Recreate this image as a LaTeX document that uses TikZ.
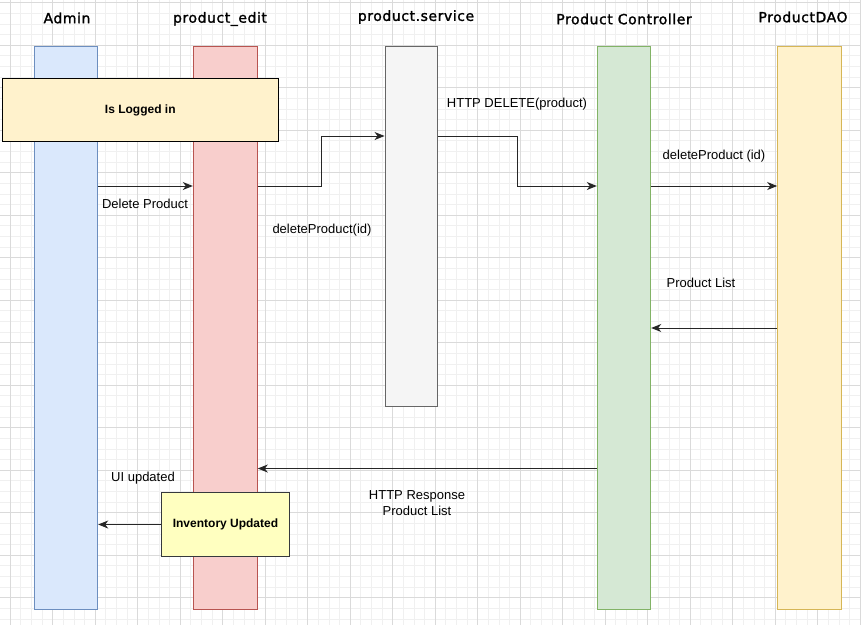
\documentclass[tikz,border=0pt]{standalone}
\usepackage{fontspec}
\setmainfont{Liberation Sans}
\newfontfamily\headfont{DejaVu Sans}[LetterSpace=4,FakeBold=1.5]
\usetikzlibrary{arrows.meta}
\definecolor{minorgrid}{HTML}{F0F0F0}
\definecolor{majorgrid}{HTML}{DADADA}
\begin{document}
\begin{tikzpicture}[x=1pt,y=-1pt,
  life/.style={draw,inner sep=0pt,minimum width=64pt,minimum height=563pt,line width=1pt},
  note/.style={draw,inner sep=0pt,line width=1pt,font=\bfseries\fontsize{12}{14}\selectfont},
  head/.style={font=\headfont\fontsize{14}{16}\selectfont},
  msg/.style={draw=black!85,line width=1pt,-{Stealth[length=10pt,width=8pt,inset=3pt]}},
  lbl/.style={font=\fontsize{13}{15}\selectfont,align=center}]
  \fill[white] (0,0) rectangle (861,625);
  \useasboundingbox (0,0) rectangle (861,625);
  \foreach \i in {0,...,80} \draw[minorgrid] (10+\i*10.625,0) -- (10+\i*10.625,625);
  \foreach \i in {0,...,58} \draw[minorgrid] (0,2.5+\i*10.625) -- (861,2.5+\i*10.625);
  \foreach \i in {0,...,20} \draw[majorgrid] (10+\i*42.5,0) -- (10+\i*42.5,625);
  \foreach \i in {0,...,14} \draw[majorgrid] (0,2.5+\i*42.5) -- (861,2.5+\i*42.5);

  \node[head] (hadmin) at (67,18) {Admin};
  \node[head] (hedit) at (220,19) {product\_edit};
  \node[head] (hservice) at (416,17) {product.service};
  \node[head] (hctrl) at (624,19) {Product Controller};
  \node[head] (hdao) at (803,17) {ProductDAO};

  \node[life,fill={rgb,255:red,218;green,232;blue,252},draw={rgb,255:red,108;green,142;blue,191},minimum width=63.4pt] (admin) at (66,327.8) {};
  \node[life,fill={rgb,255:red,248;green,206;blue,204},draw={rgb,255:red,184;green,84;blue,80}] (edit) at (225.3,327.8) {};
  \node[life,fill={rgb,255:red,245;green,245;blue,245},draw={rgb,255:red,102;green,102;blue,102},minimum width=52.3pt,minimum height=360.7pt] (service) at (411.2,226.6) {};
  \node[life,fill={rgb,255:red,213;green,232;blue,212},draw={rgb,255:red,130;green,179;blue,102},minimum width=53.4pt] (ctrl) at (624,327.8) {};
  \node[life,fill={rgb,255:red,255;green,242;blue,204},draw={rgb,255:red,214;green,182;blue,86}] (dao) at (809.7,327.8) {};

  \node[note,fill={rgb,255:red,255;green,242;blue,204},minimum width=276pt,minimum height=63.7pt] (login) at (140.3,110.1) {Is Logged in};
  \node[note,fill={rgb,255:red,255;green,255;blue,192},draw={rgb,255:red,54;green,57;blue,61},minimum width=127.6pt,minimum height=63.6pt] (inv) at (225.5,524.5) {Inventory Updated};

  \coordinate (r1) at (0,186);
  \coordinate (r2) at (0,328);
  \coordinate (r3) at (0,468.5);
  \coordinate (bend1) at (321,136);
  \coordinate (bend2) at (517,186);

  \draw[msg] (admin.east |- r1) -- (edit.west |- r1);
  \draw[msg] (edit.east |- r1) -| (bend1) -- (service.west |- bend1);
  \draw[msg] (service.east |- bend1) -| (bend2) -- (ctrl.west |- bend2);
  \draw[msg] (ctrl.east |- r1) -- (dao.west |- r1);
  \draw[msg] (dao.west |- r2) -- (ctrl.east |- r2);
  \draw[msg] (ctrl.west |- r3) -- (edit.east |- r3);
  \draw[msg] (inv.west) -- (admin.east |- inv.west);

  \node[lbl] (l1) at (145,204) {Delete Product};
  \node[lbl] (l2) at (322,230) {deleteProduct(id)};
  \node[lbl] (l3) at (517,104) {HTTP DELETE(product)};
  \node[lbl] (l4) at (714,156) {deleteProduct (id)};
  \node[lbl] (l5) at (701,283) {Product List};
  \node[lbl,font=\fontsize{13}{16}\selectfont] (l6) at (417,503) {HTTP Response\\Product List};
  \node[lbl] (l7) at (143,478) {UI updated};
\end{tikzpicture}
\end{document}
